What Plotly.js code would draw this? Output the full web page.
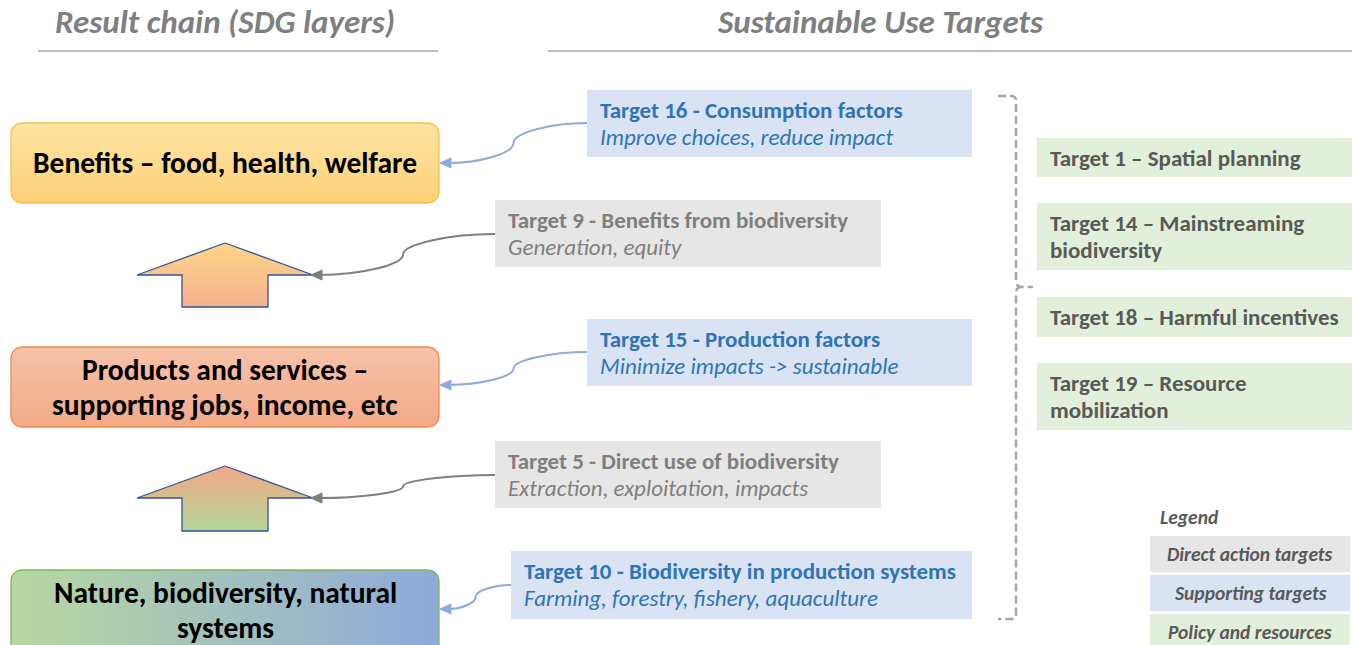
<!DOCTYPE html>
<html>
<head>
<meta charset="utf-8">
<script src="https://cdn.plot.ly/plotly-3.0.1.min.js"></script>
<style>html,body{margin:0;padding:0;background:#fff;}#chart{width:1354px;height:645px;}</style>
</head>
<body>
<div id="chart"></div>
<script>
// ---- content (text data) ----
const headers = ['Result chain (SDG layers)', 'Sustainable Use Targets'];
const chainLabels = [
  ['Benefits – food, health, welfare'],
  ['Products and services –', 'supporting jobs, income, etc'],
  ['Nature, biodiversity, natural', 'systems']
];
const targetTitles = [
  'Target 16 - Consumption factors',
  'Target 9 - Benefits from biodiversity',
  'Target 15 - Production factors',
  'Target 5 - Direct use of biodiversity',
  'Target 10 - Biodiversity in production systems'
];
const targetSubtitles = [
  'Improve choices, reduce impact',
  'Generation, equity',
  'Minimize impacts -> sustainable',
  'Extraction, exploitation, impacts',
  'Farming, forestry, fishery, aquaculture'
];
const targetTypes = ['supporting', 'direct', 'supporting', 'direct', 'supporting'];
const policyTargets = [
  ['Target 1 – Spatial planning'],
  ['Target 14 – Mainstreaming', 'biodiversity'],
  ['Target 18 – Harmful incentives'],
  ['Target 19 – Resource', 'mobilization']
];
const legendTitle = 'Legend';
const legendLabels = ['Direct action targets', 'Supporting targets', 'Policy and resources'];
const legendTypes = ['direct', 'supporting', 'policy'];

// ---- layout geometry & styles (pixel space, y downwards) ----
const FONT = 'Carlito, Lato, sans-serif';
const typeStyle = {
  direct: {fill: '#e7e6e6', text: '#7f7f7f', line: '#7f7f7f'},
  supporting: {fill: '#dae3f3', text: '#2e75b6', line: '#8faadc'},
  policy: {fill: '#e2efda', text: '#595959'}
};
const chainGeom = [
  {x0: 11, x1: 439, y0: 123, y1: 203, c0: '#fee3a2', c1: '#fdd27a', dir: 'vertical', border: '#f4c048', ty: [163]},
  {x0: 11, x1: 439, y0: 347, y1: 427, c0: '#f7c2a9', c1: '#f3aa88', dir: 'vertical', border: '#ee8a4f', ty: [370, 405]},
  {x0: 11, x1: 439, y0: 570, y1: 660, c0: '#b7d8a0', c1: '#8eaadb', dir: 'horizontal', border: '#7fb65a', ty: [593, 628]}
];
const arrowGeom = [
  {cx: 225, tip: 243, base: 275, bottom: 307, half: 88, shaft: 43, c0: '#fed586', c1: '#f5b18e'},
  {cx: 225, tip: 466, base: 498, bottom: 531, half: 88, shaft: 43, c0: '#f3a985', c1: '#b3d59b'}
];
const targetGeom = [
  {x0: 587, x1: 972, y0: 90, y1: 157, from: [587, 123], to: [440, 163]},
  {x0: 495, x1: 881, y0: 200, y1: 267, from: [495, 234], to: [311, 275]},
  {x0: 587, x1: 972, y0: 319, y1: 386, from: [587, 352], to: [440, 385]},
  {x0: 495, x1: 881, y0: 441, y1: 508, from: [495, 475], to: [311, 498]},
  {x0: 511, x1: 972, y0: 551, y1: 619, from: [511, 585], to: [440, 609]}
];
const policyGeom = [
  {y0: 138, y1: 177, ty: [158]},
  {y0: 203, y1: 270, ty: [223, 250]},
  {y0: 297, y1: 337, ty: [317]},
  {y0: 363, y1: 430, ty: [383, 410]}
];
const legendGeom = [
  {y0: 536, y1: 572}, {y0: 575, y1: 611}, {y0: 614, y1: 650}
];

const shapes = [];
const annotations = [];
const traces = [];

function roundRectPts(x0, x1, y0, y1, r) {
  const xs = [], ys = [];
  const corners = [
    [x1 - r, y0 + r, -Math.PI / 2, 0],
    [x1 - r, y1 - r, 0, Math.PI / 2],
    [x0 + r, y1 - r, Math.PI / 2, Math.PI],
    [x0 + r, y0 + r, Math.PI, 1.5 * Math.PI]
  ];
  corners.forEach(([cx, cy, a0, a1]) => {
    for (let i = 0; i <= 8; i++) {
      const a = a0 + (a1 - a0) * i / 8;
      xs.push(cx + r * Math.cos(a));
      ys.push(cy + r * Math.sin(a));
    }
  });
  xs.push(xs[0]); ys.push(ys[0]);
  return {xs, ys};
}

// headers
const headerGeom = [{cx: 225, lx0: 38, lx1: 438}, {cx: 880, lx0: 548, lx1: 1352}];
headers.forEach((h, i) => {
  const g = headerGeom[i];
  annotations.push({x: g.cx, y: 22, text: '<b><i>' + h + '</i></b>', showarrow: false,
    xanchor: 'center', yanchor: 'middle', font: {family: FONT, size: 33, color: '#7f7f7f'}});
  shapes.push({type: 'line', x0: g.lx0, x1: g.lx1, y0: 51, y1: 51, line: {color: '#a6a6a6', width: 1.5}});
});

// result chain boxes
chainLabels.forEach((lines, i) => {
  const g = chainGeom[i];
  const p = roundRectPts(g.x0, g.x1, g.y0, g.y1, 11);
  const grad = g.dir === 'vertical'
    ? {type: 'vertical', start: g.y0, stop: g.y1, colorscale: [[0, g.c0], [1, g.c1]]}
    : {type: 'horizontal', start: g.x0, stop: g.x1, colorscale: [[0, g.c0], [1, g.c1]]};
  traces.push({x: p.xs, y: p.ys, type: 'scatter', mode: 'lines', fill: 'toself',
    fillgradient: grad, line: {color: g.border, width: 1.3}, hoverinfo: 'skip', showlegend: false});
  lines.forEach((t, k) => {
    annotations.push({x: (g.x0 + g.x1) / 2, y: g.ty[k], text: '<b>' + t + '</b>', showarrow: false,
      xanchor: 'center', yanchor: 'middle', font: {family: FONT, size: 29.5, color: '#000'}});
  });
});

// up arrows
arrowGeom.forEach(g => {
  const xs = [g.cx, g.cx + g.half, g.cx + g.shaft, g.cx + g.shaft, g.cx - g.shaft, g.cx - g.shaft, g.cx - g.half, g.cx];
  const ys = [g.tip, g.base, g.base, g.bottom, g.bottom, g.base, g.base, g.tip];
  traces.push({x: xs, y: ys, type: 'scatter', mode: 'lines', fill: 'toself',
    fillgradient: {type: 'vertical', start: g.tip, stop: g.bottom, colorscale: [[0, g.c0], [1, g.c1]]},
    line: {color: '#2f5597', width: 1.3}, hoverinfo: 'skip', showlegend: false});
});

// target boxes and connectors
targetTitles.forEach((title, i) => {
  const g = targetGeom[i];
  const st = typeStyle[targetTypes[i]];
  shapes.push({type: 'rect', x0: g.x0, x1: g.x1, y0: g.y0, y1: g.y1, fillcolor: st.fill, line: {width: 0}, layer: 'below'});
  annotations.push({x: g.x0 + 11, y: g.y0 + 20, text: '<b>' + title + '</b>', showarrow: false,
    xanchor: 'left', yanchor: 'middle', font: {family: FONT, size: 23, color: st.text}});
  annotations.push({x: g.x0 + 11, y: g.y0 + 47, text: '<i>' + targetSubtitles[i] + '</i>', showarrow: false,
    xanchor: 'left', yanchor: 'middle', font: {family: FONT, size: 23, color: st.text}});
  // curved connector (S shape through the midpoint)
  const [fx, fy] = g.from, [tx, ty] = g.to;
  const ex = tx + 8;
  const mx = (fx + tx) / 2, my = (fy + ty) / 2, dy = ty - fy;
  const path = `M ${fx} ${fy} C ${(fx + mx) / 2} ${fy} ${mx} ${fy + dy / 4} ${mx} ${my} ` +
               `C ${mx} ${fy + 3 * dy / 4} ${(mx + ex) / 2} ${ty} ${ex} ${ty}`;
  shapes.push({type: 'path', path: path, line: {color: st.line, width: 2}});
  shapes.push({type: 'path', path: `M ${tx} ${ty} L ${tx + 11} ${ty - 5} L ${tx + 11} ${ty + 5} Z`,
    fillcolor: st.line, line: {color: st.line, width: 1}});
});

// bracket
shapes.push({type: 'path',
  path: 'M 998 96 L 1011 96 Q 1016 96 1016 101 L 1016 281 Q 1016 287 1022 287 L 1033 287 M 1022 287 Q 1016 287 1016 293 L 1016 614 Q 1016 619 1011 619 L 998 619',
  line: {color: '#a6a6a6', width: 2.5, dash: '8px,4px'}});

// policy boxes
policyTargets.forEach((lines, i) => {
  const g = policyGeom[i];
  shapes.push({type: 'rect', x0: 1037, x1: 1352, y0: g.y0, y1: g.y1, fillcolor: typeStyle.policy.fill, line: {width: 0}, layer: 'below'});
  lines.forEach((t, k) => {
    annotations.push({x: 1048, y: g.ty[k], text: '<b>' + t + '</b>', showarrow: false,
      xanchor: 'left', yanchor: 'middle', font: {family: FONT, size: 23, color: '#595959'}});
  });
});

// legend
annotations.push({x: 1158, y: 517, text: '<b><i>' + legendTitle + '</i></b>', showarrow: false,
  xanchor: 'left', yanchor: 'middle', font: {family: FONT, size: 19.5, color: '#595959'}});
legendLabels.forEach((t, i) => {
  const g = legendGeom[i];
  shapes.push({type: 'rect', x0: 1150, x1: 1350, y0: g.y0, y1: g.y1, fillcolor: typeStyle[legendTypes[i]].fill, line: {width: 0}, layer: 'below'});
  annotations.push({x: 1250, y: [554, 593, 632][i], text: '<b><i>' + t + '</i></b>', showarrow: false,
    xanchor: 'center', yanchor: 'middle', font: {family: FONT, size: 19.5, color: '#595959'}});
});

const layout = {
  width: 1354, height: 645,
  margin: {l: 0, r: 0, t: 0, b: 0},
  paper_bgcolor: '#ffffff', plot_bgcolor: '#ffffff',
  xaxis: {range: [0, 1354], visible: false, fixedrange: true},
  yaxis: {range: [645, 0], visible: false, fixedrange: true},
  showlegend: false, hovermode: false,
  shapes: shapes, annotations: annotations
};
Plotly.newPlot('chart', traces, layout, {displayModeBar: false, staticPlot: true});
</script>
</body>
</html>
